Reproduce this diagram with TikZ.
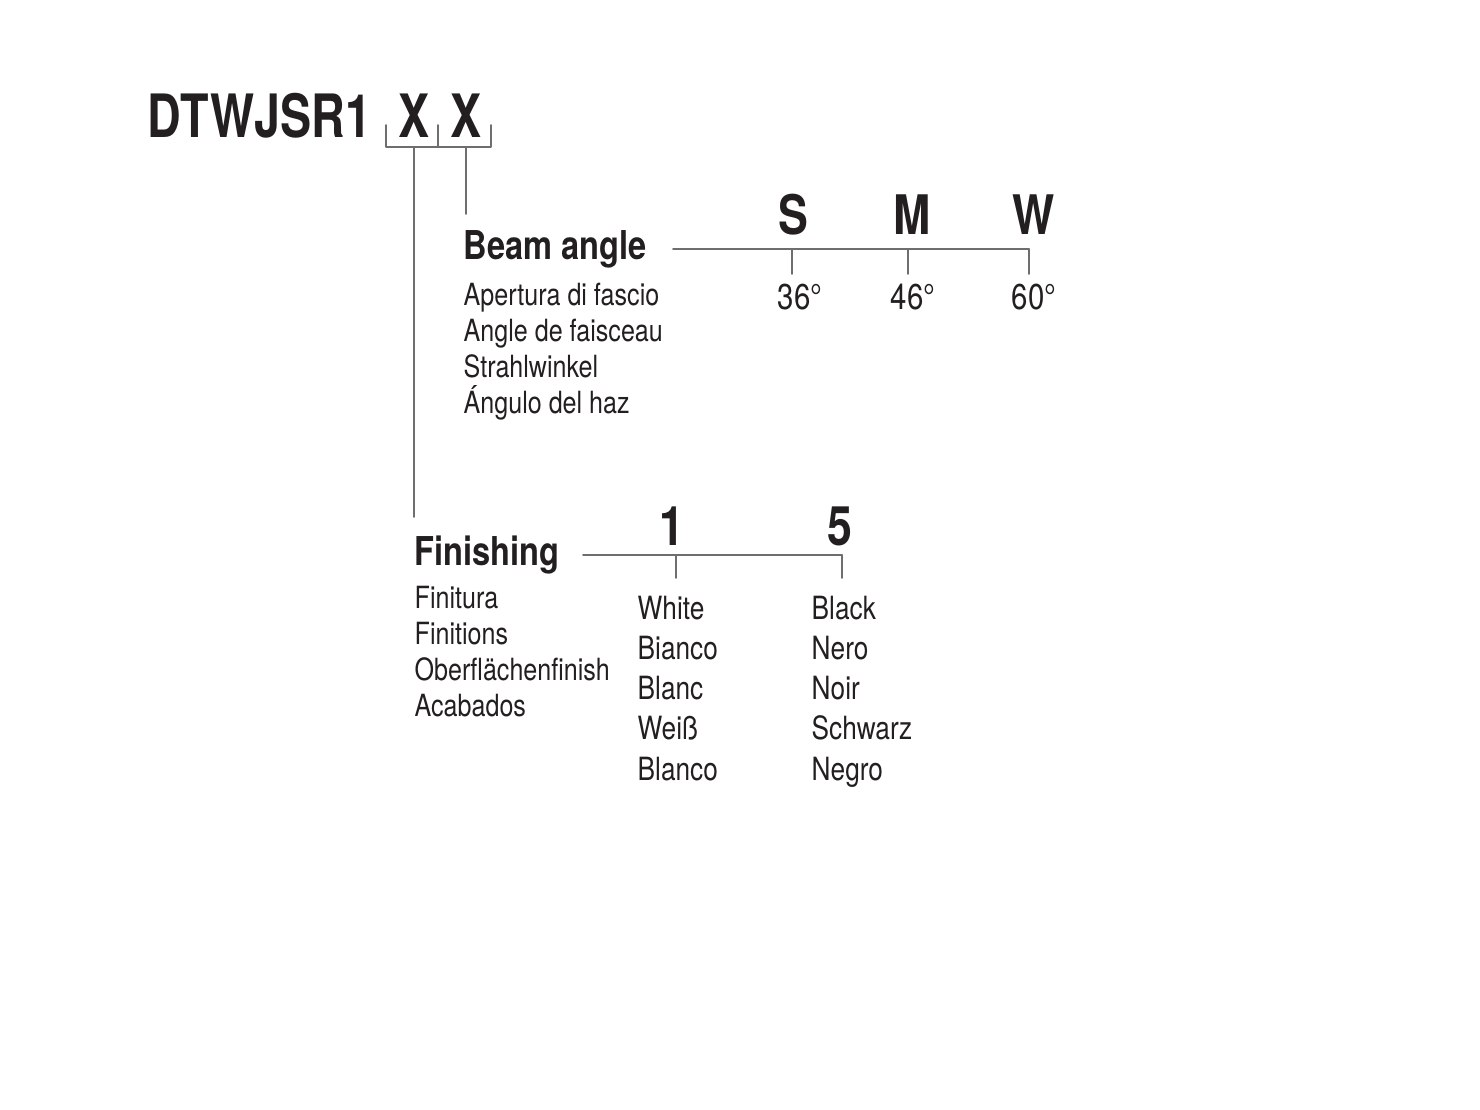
\documentclass[tikz,border=0pt]{standalone}
\usepackage{fontspec}
\setmainfont{TeX Gyre Heros}[FakeStretch=0.82]
\newfontfamily\codefont{TeX Gyre Heros}[FakeStretch=0.78]
\definecolor{ink}{HTML}{231F20}
\definecolor{leadgray}{HTML}{6E6E6E}
\begin{document}
\begin{tikzpicture}[x=0.01cm, y=-0.01cm, line cap=round, line join=round,
  every node/.style={inner sep=0pt, text=ink},
  code/.style={font=\codefont\bfseries\fontsize{17}{20}\selectfont, anchor=base},
  head/.style={font=\bfseries\fontsize{11.3}{13}\selectfont, anchor=base west},
  sub/.style={font=\fontsize{8.7}{10}\selectfont, anchor=base west},
  optkey/.style={font=\bfseries\fontsize{15.5}{18}\selectfont, anchor=base},
  optval/.style={font=\fontsize{10.2}{12}\selectfont, anchor=base},
  colour/.style={font=\fontsize{9.1}{11}\selectfont, anchor=base west},
  lead/.style={draw=leadgray, line width=0.45pt}]
\useasboundingbox (0,0) rectangle (1480,1110);
% product code
\node[code, anchor=base west] (code) at (147,138) {DTWJSR1};
\node[code] (X1) at (414,138) {X};
\node[code] (X2) at (466,138) {X};
\path
	(386,147) coordinate (bl) (386,125) coordinate (blt)
	(438,147) coordinate (bm) (438,125) coordinate (bmt)
	(491,147) coordinate (br) (491,125) coordinate (brt)
	(414,147) coordinate (X1b) (414,517) coordinate (fintop)
	(466,147) coordinate (X2b) (466,214) coordinate (beamtop)
	;
\draw[lead] (blt)--(bl)--(br)--(brt) (bm)--(bmt);
\draw[lead] (X1b)--(fintop) (X2b)--(beamtop);
% beam angle
\node[head] (beam) at (463,260) {Beam angle};
\foreach \t [count=\i from 0] in {Apertura di fascio, Angle de faisceau, Strahlwinkel, Ángulo del haz}
	\node[sub] (beam\i) at (463,{306+36*\i}) {\t};
\path (673,249) coordinate (beamA) (1029,249) coordinate (beamB);
\draw[lead] (beamA)--(beamB);
\foreach \k/\kx/\tx/\v/\vx in {S/793/792/36°/800, M/912/908/46°/913, W/1034/1029/60°/1034}{
	\node[optkey] (key\k) at (\kx,235) {\k};
	\node[optval] (val\k) at (\vx,310) {\v};
	\draw[lead] (\tx,249) coordinate (tick\k) -- (\tx,274);
}
% finishing
\node[head] (fin) at (414,565) {Finishing};
\foreach \t [count=\i from 0] in {Finitura, Finitions, Oberflächenfinish, Acabados}
	\node[sub] (fin\i) at (414,{608+36*\i}) {\t};
\path (583,555) coordinate (finA) (842,555) coordinate (finB);
\draw[lead] (finA)--(finB);
\foreach \k/\kx/\tx in {1/672/676, 5/840/842}{
	\node[optkey] (key\k) at (\kx,545) {\k};
	\draw[lead] (\tx,555) coordinate (tick\k) -- (\tx,578);
}
\foreach \w [count=\i from 0] in {White, Bianco, Blanc, Weiß, Blanco}
	\node[colour] (white\i) at (637,{619+40.3*\i}) {\w};
\foreach \b [count=\i from 0] in {Black, Nero, Noir, Schwarz, Negro}
	\node[colour] (black\i) at (811,{619+40.3*\i}) {\b};
\end{tikzpicture}
\end{document}
